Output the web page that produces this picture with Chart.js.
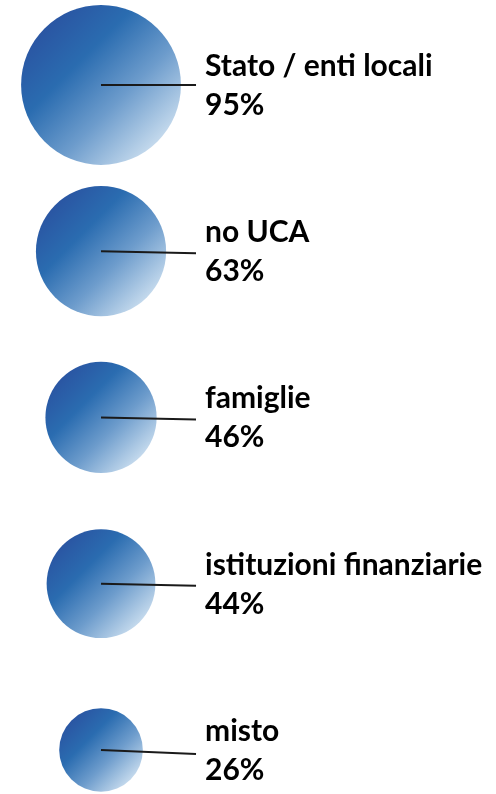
<!DOCTYPE html>
<html>
<head>
<meta charset="utf-8">
<script src="https://cdn.jsdelivr.net/npm/chart.js@4"></script>
<style>
  html, body { margin: 0; padding: 0; background: #fff; }
  #wrap { width: 496px; height: 794px; position: relative; }
</style>
</head>
<body>
<div id="wrap"><canvas id="myChart"></canvas></div>
<script>
var categories = ["Stato / enti locali", "no UCA", "famiglie", "istituzioni finanziarie", "misto"];
var shares = [95, 63, 46, 44, 26]; // percent
var shareLabels = ["95%", "63%", "46%", "44%", "26%"];

var ctx = document.getElementById("myChart");

// bubble area proportional to share
function bubbleRadius(v) {
    return 8.2 * Math.sqrt(v);
}

var points = categories.map(function(c, i) {
    return { x: 0, y: i, r: bubbleRadius(shares[i]) };
});

function bubbleFill(context) {
    var chart = context.chart;
    var raw = context.raw;
    if (!raw || !chart.scales.x) return "#2a6db0";
    var cx = chart.scales.x.getPixelForValue(raw.x);
    var cy = chart.scales.y.getPixelForValue(raw.y);
    if (!isFinite(cx) || !isFinite(cy)) return "#2a6db0";
    var r = raw.r;
    var g = chart.ctx.createLinearGradient(cx - r * 0.7, cy - r * 0.7, cx + r * 0.7, cy + r * 0.7);
    g.addColorStop(0, "#2a56a3");
    g.addColorStop(0.3, "#2a6cb0");
    g.addColorStop(0.65, "#6d9ccc");
    g.addColorStop(1, "#c2d8ec");
    return g;
}

var labelPlugin = {
    id: "leaderLabels",
    afterDatasetsDraw: function(chart) {
        var c = chart.ctx;
        var meta = chart.getDatasetMeta(0);
        c.save();
        meta.data.forEach(function(pt, i) {
            var endX = pt.x + 95;
            var drop = i === 0 ? 0 : (i === 4 ? 4 : 2);
            c.beginPath();
            c.moveTo(pt.x, pt.y);
            c.lineTo(endX, pt.y + drop);
            c.lineWidth = 2;
            c.strokeStyle = "#1a1a1a";
            c.stroke();
            var tx = endX + 9;
            c.fillStyle = "#000";
            c.font = "bold 30px Lato";
            c.textBaseline = "alphabetic";
            c.textAlign = "left";
            c.fillText(categories[i], tx, pt.y - 9);
            c.fillText(shareLabels[i], tx, pt.y + 30);
        });
        c.restore();
    }
};

var chart = new Chart(ctx, {
    type: "bubble",
    data: {
        datasets: [{
            data: points,
            backgroundColor: bubbleFill,
            borderWidth: 0,
            hoverRadius: 0,
            clip: false
        }]
    },
    options: {
        responsive: true,
        maintainAspectRatio: false,
        animation: false,
        events: [],
        layout: { padding: 0, autoPadding: false },
        plugins: {
            legend: { display: false },
            tooltip: { enabled: false }
        },
        scales: {
            x: { type: "linear", display: false, min: -1, max: 3.91 },
            y: { type: "linear", display: false, reverse: true, min: -0.511, max: 4.265 }
        }
    },
    plugins: [labelPlugin]
});
</script>
</body>
</html>
